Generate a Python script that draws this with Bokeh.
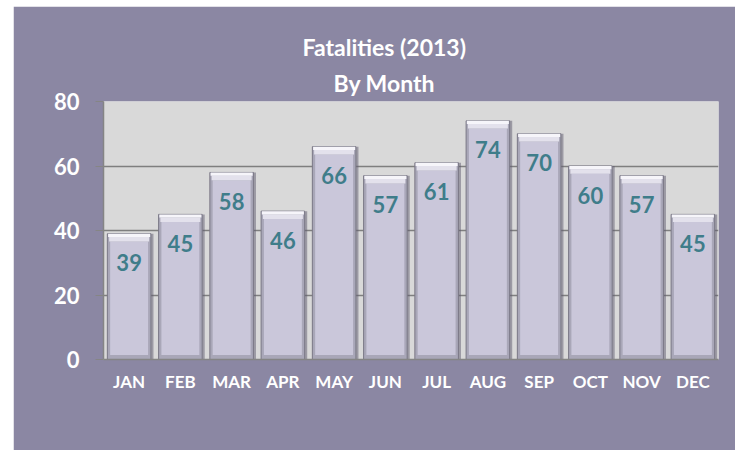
from bokeh.plotting import figure
from bokeh.models import Range1d, ColumnDataSource, FixedTicker, Title, Spacer
from bokeh.layouts import row, column
from bokeh.transform import dodge
from bokeh.embed import file_html
from bokeh.resources import INLINE

months = ["JAN", "FEB", "MAR", "APR", "MAY", "JUN", "JUL", "AUG", "SEP", "OCT", "NOV", "DEC"]
fatalities = [39, 45, 58, 46, 66, 57, 61, 74, 70, 60, 57, 45]
y_ticks = [0, 20, 40, 60, 80]
title_lines = ["Fatalities (2013)", "By Month"]

FONT = "Lato"
PURPLE = "#8B87A3"

src = ColumnDataSource(dict(
    m=months,
    v=fatalities,
    lab=[str(v) for v in fatalities],
    hi1=[v - 1.0 for v in fatalities],
    hi2=[v - 2.4 for v in fatalities],
))

p = figure(x_range=months, y_range=Range1d(0, 80), width=722, height=444,
           output_backend="svg", toolbar_location=None, title=None,
           min_border_left=90, min_border_right=17, min_border_top=95, min_border_bottom=91)
p.border_fill_color = PURPLE
p.background_fill_color = "#D9D9D9"
p.outline_line_color = None

# title (two lines); the lower line is added first (closest to the chart)
p.add_layout(Title(text=title_lines[1], align="left", offset=230, standoff=10,
                   text_font=FONT, text_font_size="23px", text_font_style="bold",
                   text_color="white"), "above")
p.add_layout(Title(text=title_lines[0], align="left", offset=199, standoff=2,
                   text_font=FONT, text_font_size="23px", text_font_style="bold",
                   text_color="white"), "above")

# grid
p.xgrid.grid_line_color = None
p.ygrid.grid_line_color = "#7F7F7F"
p.ygrid.grid_line_width = 1.5
p.ygrid.ticker = FixedTicker(ticks=y_ticks)

# y axis
p.yaxis.ticker = FixedTicker(ticks=y_ticks)
p.yaxis.axis_line_color = "#858585"
p.yaxis.axis_line_width = 1.5
p.yaxis.major_tick_line_color = "#858585"
p.yaxis.major_tick_out = 8
p.yaxis.major_tick_in = 0
p.yaxis.minor_tick_line_color = None
p.yaxis.major_label_text_font = FONT
p.yaxis.major_label_text_font_size = "22px"
p.yaxis.major_label_text_font_style = "bold"
p.yaxis.major_label_text_color = "white"
p.yaxis.major_label_standoff = 16

# x axis
p.xaxis.axis_line_color = "#858585"
p.xaxis.axis_line_width = 1.5
p.xaxis.major_tick_line_color = None
p.xaxis.major_label_text_font = FONT
p.xaxis.major_label_text_font_size = "17px"
p.xaxis.major_label_text_font_style = "bold"
p.xaxis.major_label_text_color = "white"
p.xaxis.major_label_standoff = 5

# shadow
p.vbar(x=dodge("m", 0.05, range=p.x_range), top="v", bottom=-0.7, width=0.85, source=src,
       fill_color="#5f5c70", fill_alpha=0.5, line_color=None)
# bar body (bevel edges)
p.vbar(x="m", top="v", bottom=0, width=0.85, source=src,
       fill_color="#A9A7B8", line_color="#7a7886", line_width=1)
# inner face
p.vbar(x="m", top="hi2", bottom=1.4, width=0.74, source=src,
       fill_color="#CAC7DA", line_color=None)
# top highlight (bevel)
p.vbar(x="m", top="hi1", bottom="hi2", width=0.78, source=src,
       fill_color="#E3E1EC", line_color=None)
p.vbar(x="m", top="v", bottom="hi1", width=0.82, source=src,
       fill_color="#F6F5FA", line_color=None)

# data labels
p.text(x="m", y="v", text="lab", source=src, y_offset=29,
       text_align="center", text_baseline="middle",
       text_font={"value": FONT}, text_font_size={"value": "22px"},
       text_font_style="bold", text_color="#3F7D8A")

layout = row(Spacer(width=13, height=450), column(Spacer(width=722, height=6), p))
open("out.html", "w").write(file_html(layout, INLINE))
